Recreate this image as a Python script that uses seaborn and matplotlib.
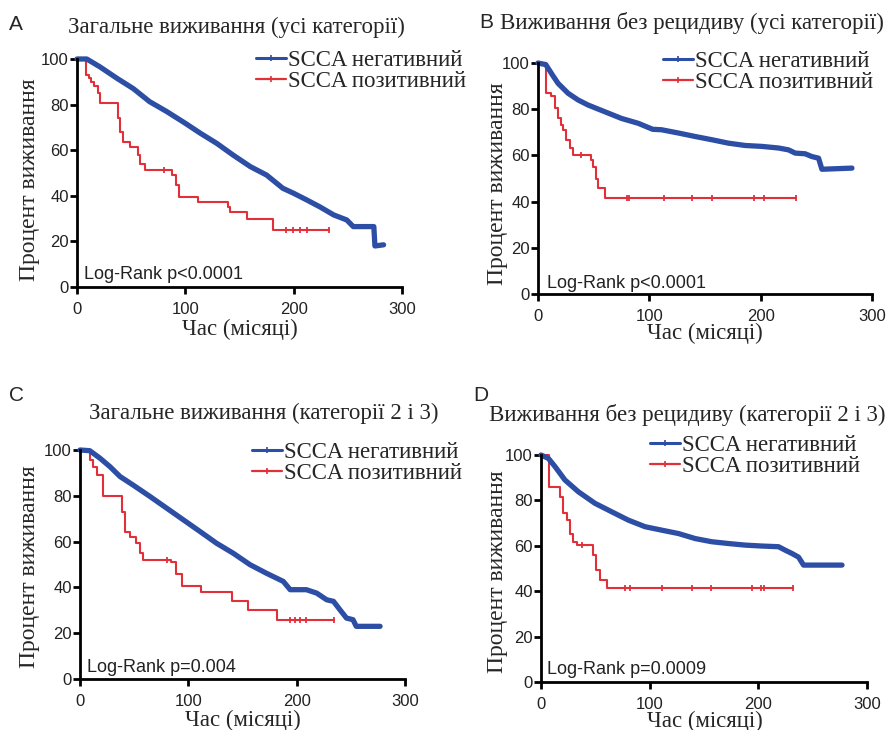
import numpy as np
import pandas as pd
import matplotlib
matplotlib.use("Agg")
import matplotlib.pyplot as plt
from matplotlib.lines import Line2D
import seaborn as sns

# ---------------- data ----------------
labels_legend = ["SCCA негативний", "SCCA позитивний"]
titles = ["Загальне виживання (усі категорії)",
          "Виживання без рецидиву (усі категорії)",
          "Загальне виживання (категорії 2 і 3)",
          "Виживання без рецидиву (категорії 2 і 3)"]
letters = ["A", "B", "C", "D"]
pvalues = ["Log-Rank p<0.0001", "Log-Rank p<0.0001", "Log-Rank p=0.004", "Log-Rank p=0.0009"]
x_ticks = [0, 100, 200, 300]
y_ticks = [0, 20, 40, 60, 80, 100]

# Panel A
a_neg_t = [0, 9, 21, 37, 52, 67, 83, 100, 114, 129, 144, 160, 175, 190, 200, 212, 224, 237, 249, 255, 274, 275, 283]
a_neg_v = [100, 100, 96.6, 91.5, 87, 81.3, 76.9, 71.8, 67.4, 63, 57.9, 52.8, 49.1, 43.3, 41.1, 38.2, 35.2, 31.6, 29.4, 26.5, 26.5, 18, 18.5]
a_pos_t = [0, 8, 11, 13, 16, 19, 21, 37, 38, 40, 42, 49, 56, 58.5, 63, 86, 88, 91, 94, 112, 139, 141.5, 157, 181, 233]
a_pos_v = [100, 93, 91.5, 90, 88, 85, 80.5, 80.5, 74, 68, 63.5, 61.5, 58, 54, 51.3, 51.3, 49, 44.7, 39.6, 37.4, 35, 33, 30, 25, 25]
a_cens_t = [80, 193, 199, 206, 212, 233]
a_cens_v = [51.3, 25, 25, 25, 25, 25]

# Panel B
b_neg_t = [0, 7, 13, 18, 27, 36, 45, 60, 75, 90, 103, 111, 126, 141, 156, 171, 186, 201, 216, 225, 231, 240, 246, 252, 255, 282]
b_neg_v = [100, 99.3, 94.8, 91.2, 86.9, 84, 81.8, 78.9, 76, 73.9, 71.3, 71.1, 69.7, 68.2, 66.8, 65.3, 64.3, 63.9, 63.2, 62.4, 61, 60.7, 59.5, 58.8, 54, 54.5]
b_pos_t = [0, 7.5, 12, 15, 18, 21, 22.5, 25.5, 28.5, 31.4, 46.4, 48, 49.4, 52.4, 54, 60, 232]
b_pos_v = [100, 86.9, 85.5, 80.4, 76, 73.2, 71, 66.7, 63, 60.2, 60.2, 58, 55.1, 50, 45.7, 41.4, 41.4]
b_cens_t = [39, 80, 82, 113, 138, 156, 194, 203, 232]
b_cens_v = [60.2, 41.4, 41.4, 41.4, 41.4, 41.4, 41.4, 41.4, 41.4]

# Panel C
c_neg_t = [0, 9, 18.5, 27.7, 37, 49, 64.6, 80, 95.4, 110.8, 126, 141.5, 157, 172, 187.7, 194, 209, 218.5, 227.7, 234, 240, 246, 252, 255, 277]
c_neg_v = [100, 99.7, 96.4, 92.7, 88.4, 84.7, 79.7, 74.6, 69.5, 64.4, 59.3, 54.9, 49.9, 46.2, 42.6, 39, 39, 37.5, 34.6, 33.9, 30.2, 26.6, 25.9, 23, 23]
c_pos_t = [0, 9.2, 12.3, 15.4, 21.5, 37, 38.5, 41.5, 46, 52, 55, 58.5, 81.5, 84, 89, 94, 112, 140, 155, 181.5, 234]
c_pos_v = [100, 95.6, 92.7, 89, 79.7, 79.7, 73, 64.4, 62.2, 59.3, 55, 52, 52, 51, 46, 40.4, 38.2, 33.9, 30.2, 25.6, 25.6]
c_cens_t = [80, 194, 198, 203, 209, 234]
c_cens_v = [52, 25.6, 25.6, 25.6, 25.6, 25.6]

# Panel D
d_neg_t = [0, 6.8, 12.9, 22, 34.4, 49.7, 65, 80.4, 95.8, 111, 126.5, 141.8, 157, 172.5, 188, 203, 218.6, 225, 231, 237, 241.6, 277]
d_neg_v = [100, 98.5, 94.9, 89, 83.8, 78.7, 75, 71.3, 68.4, 66.9, 65.4, 63.2, 61.8, 61, 60.3, 59.9, 59.6, 58, 56.6, 55, 51.5, 51.5]
d_pos_t = [0, 7.4, 16, 17.5, 20.6, 23.6, 26.7, 29.8, 33, 45, 48, 51, 54.3, 60.5, 232]
d_pos_v = [100, 86, 86, 81.6, 74.3, 71.3, 65.4, 61.8, 60.3, 60.3, 55.9, 49.3, 44.9, 41.5, 41.5]
d_cens_t = [38, 77, 82, 111, 139, 156, 194, 202, 205, 232]
d_cens_v = [60.3, 41.5, 41.5, 41.5, 41.5, 41.5, 41.5, 41.5, 41.5, 41.5]

# ---------------- style ----------------
W, H = 890, 730
BLUE = "#2d4ea5"
RED = "#e1303a"
sns.set_style("ticks")
plt.rcParams["font.family"] = ["Liberation Serif", "DejaVu Serif"]
SANS = ["Liberation Sans", "DejaVu Sans"]

fig = plt.figure(figsize=(W / 100, H / 100), dpi=100)


def frac_rect(l, r, t, b):
    return [l / W, 1 - b / H, (r - l) / W, (b - t) / H]


panels = [
    dict(rect=(77, 402, 59, 287), neg=(a_neg_t, a_neg_v), pos=(a_pos_t, a_pos_v), cens=(a_cens_t, a_cens_v),
         letter=(16, 24), title=(236, 27), leg=(256, 50), ylab=(30, 180), xlab=(240, 329), pv=(84, 275)),
    dict(rect=(538, 872, 63, 294), neg=(b_neg_t, b_neg_v), pos=(b_pos_t, b_pos_v), cens=(b_cens_t, b_cens_v),
         letter=(486, 22), title=(692, 23), leg=(663, 51), ylab=(497, 184), xlab=(705, 333), pv=(547, 283)),
    dict(rect=(80, 405, 450, 679), neg=(c_neg_t, c_neg_v), pos=(c_pos_t, c_pos_v), cens=(c_cens_t, c_cens_v),
         letter=(17, 395), title=(264, 413), leg=(252, 442), ylab=(30, 567), xlab=(243, 720), pv=(87, 667)),
    dict(rect=(541, 867, 455, 682), neg=(d_neg_t, d_neg_v), pos=(d_pos_t, d_pos_v), cens=(d_cens_t, d_cens_v),
         letter=(481, 395), title=(687, 415), leg=(650, 435), ylab=(498, 572), xlab=(705, 721), pv=(547, 669)),
]

for i, p in enumerate(panels):
    ax = fig.add_axes(frac_rect(*p["rect"]))
    neg = pd.DataFrame({"t": p["neg"][0], "v": p["neg"][1]})
    pos = pd.DataFrame({"t": p["pos"][0], "v": p["pos"][1]})
    sns.lineplot(data=pos, x="t", y="v", ax=ax, color=RED, linewidth=1.5,
                 drawstyle="steps-post", estimator=None, sort=False, clip_on=False)
    ax.plot(p["cens"][0], p["cens"][1], ls="none", marker="|", color=RED,
            markersize=5, markeredgewidth=1.3, clip_on=False)
    sns.lineplot(data=neg, x="t", y="v", ax=ax, color=BLUE, linewidth=3.8,
                 estimator=None, sort=False, clip_on=False)
    ax.set_xlim(0, 300)
    ax.set_ylim(0, 100)
    ax.set_xticks(x_ticks)
    ax.set_yticks(y_ticks)
    ax.set_xlabel("")
    ax.set_ylabel("")
    for s in ["top", "right"]:
        ax.spines[s].set_visible(False)
    for s in ["left", "bottom"]:
        ax.spines[s].set_linewidth(2.0)
        ax.spines[s].set_color("black")
    ax.tick_params(axis="both", direction="out", length=5, width=2.0, color="black")
    ax.tick_params(axis="x", pad=5.5)
    ax.tick_params(axis="y", pad=1)
    for lab in ax.get_xticklabels() + ax.get_yticklabels():
        lab.set_family(SANS)
        lab.set_fontsize(12)
        lab.set_color("#222222")
    ax.set_facecolor("white")

    fig.text(p["letter"][0] / W, 1 - p["letter"][1] / H, letters[i], family=SANS,
             fontsize=15, ha="center", va="center")
    fig.text(p["title"][0] / W, 1 - p["title"][1] / H, titles[i], fontsize=16.5,
             ha="center", va="center")
    fig.text(p["ylab"][0] / W, 1 - p["ylab"][1] / H, "Процент виживання", fontsize=17,
             rotation=90, ha="center", va="center")
    fig.text(p["xlab"][0] / W, 1 - p["xlab"][1] / H, "Час (місяці)", fontsize=16.5,
             ha="center", va="center")
    fig.text(p["pv"][0] / W, 1 - p["pv"][1] / H, pvalues[i], family=SANS, fontsize=13,
             ha="left", va="center", color="#222222")

    handles = [Line2D([], [], color=BLUE, lw=2.2, marker="|", markersize=5, markeredgewidth=1.2),
               Line2D([], [], color=RED, lw=1.6, marker="|", markersize=5, markeredgewidth=1.2)]
    fig.legend(handles, labels_legend, loc="upper left",
               bbox_to_anchor=(p["leg"][0] / W, 1 - p["leg"][1] / H),
               frameon=False, fontsize=16.5, handlelength=1.3, handletextpad=0.1,
               labelspacing=0.0, borderpad=0, borderaxespad=0)

fig.savefig("out.png", dpi=100, facecolor="white")
